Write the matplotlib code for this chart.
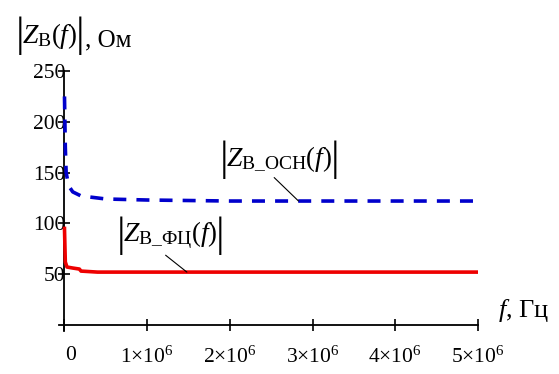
import matplotlib
matplotlib.use("Agg")
import matplotlib.pyplot as plt
from matplotlib.text import Text
from matplotlib.transforms import ScaledTranslation

plt.rcParams['font.family'] = ['Liberation Serif', 'DejaVu Serif']
plt.rcParams['mathtext.fontset'] = 'custom'
plt.rcParams['mathtext.rm'] = 'Liberation Serif'
plt.rcParams['mathtext.it'] = 'Liberation Serif:italic'

# frequency, Hz
f_osn = [0, 1e4, 2e4, 5e4, 1e5, 2e5, 5e5, 1e6, 2e6, 5e6]
z_osn = [225, 175, 150, 137, 131, 127, 124, 123, 122, 122]

f_fc = [0, 1e4, 3e4, 1e5, 1.8e5, 2e5, 4e5, 1e6, 5e6]
z_fc = [95, 62, 57, 56, 55, 53, 52, 52, 52]

x_ticks = [0, 1e6, 2e6, 3e6, 4e6, 5e6]
x_labels = ['0', r'1$\times$10$^6$', r'2$\times$10$^6$', r'3$\times$10$^6$',
            r'4$\times$10$^6$', r'5$\times$10$^6$']
y_ticks = [50, 100, 150, 200, 250]

fig = plt.figure(figsize=(5.59, 3.74), dpi=100)
ax = fig.add_axes([0.105, 0.115, 0.75, 0.695])

ax.plot(f_osn, z_osn, color='#0000cc', lw=2.6, dashes=(3.6, 2.8), zorder=3)
ax.plot(f_fc, z_fc, color='#ee0000', lw=2.6, zorder=3)

ax.set_xlim(-0.07e6, 5e6)
ax.set_ylim(-6, 250)
ax.spines['left'].set_position(('data', 0))
ax.spines['bottom'].set_position(('data', 0))
ax.spines['left'].set_bounds(-6, 250)
ax.spines['bottom'].set_bounds(-0.07e6, 5e6)
ax.spines['top'].set_visible(False)
ax.spines['right'].set_visible(False)
for s in ['left', 'bottom']:
    ax.spines[s].set_linewidth(1.3)

ax.set_xticks(x_ticks)
ax.set_xticklabels(x_labels)
ax.set_yticks(y_ticks)
ax.tick_params(axis='both', direction='inout', length=9, width=1.2, labelsize=15.5)
ax.tick_params(axis='x', pad=11)
ax.tick_params(axis='y', pad=-5)
for lab in ax.get_yticklabels():
    lab.set_zorder(1)
lab0 = ax.xaxis.get_major_ticks()[0].label1
lab0.set_transform(lab0.get_transform() + ScaledTranslation(0.06, 0, fig.dpi_scale_trans))

t1 = ax.annotate(r'$Z_{\mathrm{В\_ОСН}}\left(f\right)$', xy=(2.83e6, 122),
                 xytext=(2.6e6, 163), fontsize=20, ha='center', va='center',
                 arrowprops=dict(arrowstyle='-', lw=0.8, color='black',
                                 shrinkA=0, shrinkB=0, relpos=(0.45, -0.12)))
t2 = ax.annotate(r'$Z_{\mathrm{В\_ФЦ}}\left(f\right)$', xy=(1.48e6, 52),
                 xytext=(1.28e6, 88), fontsize=20, ha='center', va='center',
                 arrowprops=dict(arrowstyle='-', lw=0.8, color='black',
                                 shrinkA=0, shrinkB=0, relpos=(0.45, -0.12)))
t3 = fig.text(0.04, 0.905, r'$Z_{\mathrm{В}}\left(f\right)$', fontsize=20,
              ha='left', va='center')
fig.text(0.89, 0.17, r'$f$, Гц', fontsize=19, ha='left', va='center')


def add_bars(t, size=31, gap=-2):
    fig.canvas.draw()
    bb = Text.get_window_extent(t, fig.canvas.get_renderer())
    yc = (bb.y0 + bb.y1) / 2
    fig.text((bb.x0 - gap) / fig.bbox.width, yc / fig.bbox.height, '|',
             fontsize=size, ha='right', va='center')
    fig.text((bb.x1 + gap) / fig.bbox.width, yc / fig.bbox.height, '|',
             fontsize=size, ha='left', va='center')
    return bb


add_bars(t1)
add_bars(t2)
bb = add_bars(t3)
fig.text((bb.x1 + 7) / fig.bbox.width, bb.y0 / fig.bbox.height + 0.012, ', Ом',
         fontsize=18, ha='left', va='baseline')

fig.savefig('out.png', dpi=100)
